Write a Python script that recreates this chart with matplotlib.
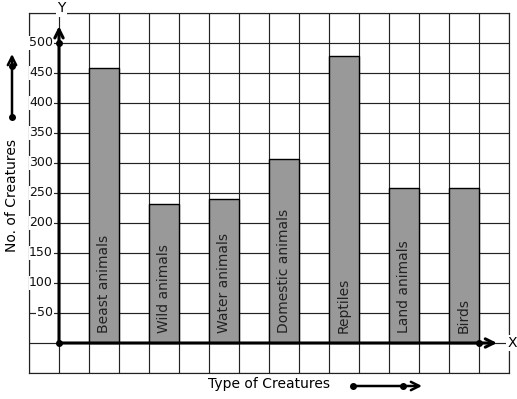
import matplotlib.pyplot as plt

categories = ['Beast animals', 'Wild animals', 'Water animals', 'Domestic animals',
              'Reptiles', 'Land animals', 'Birds']
counts = [458, 231, 240, 306, 478, 258, 258]
y_ticks = [50, 100, 150, 200, 250, 300, 350, 400, 450, 500]

W, H = 517, 399
fig = plt.figure(figsize=(W / 100, H / 100), dpi=100)
ax = fig.add_axes([29 / W, 1 - 373 / H, 480 / W, 360 / H])
ax.set_xlim(-1, 15)
ax.set_ylim(-50, 550)

# square grid
ax.set_xticks(range(-1, 16))
ax.set_yticks(range(-50, 551, 50))
ax.grid(True, color='#222222', lw=0.85)
ax.set_axisbelow(True)
ax.tick_params(length=0, labelbottom=False, labelleft=False)
for s in ax.spines.values():
    s.set_color('#222222')
    s.set_linewidth(0.85)

# bars
xs = [1.5 + 2 * i for i in range(len(categories))]
ax.bar(xs, counts, width=1.0, color='#999999', edgecolor='black', lw=1.0, zorder=2)
for x, name in zip(xs, categories):
    ax.text(x, 16, name, rotation=90, ha='center', va='bottom', fontsize=10,
            color='#222222', zorder=3)

# y values
for v in y_ticks:
    ax.text(-0.2, v, str(v), ha='right', va='center', fontsize=9, color='#111111',
            bbox=dict(boxstyle='square,pad=0.05', fc='white', ec='none'), zorder=3)

# axes with arrows
ax.annotate('', xy=(14.6, 0), xytext=(0, 0),
            arrowprops=dict(arrowstyle='->,head_length=0.6,head_width=0.3', lw=2.2,
                            color='black', shrinkA=0, shrinkB=0), zorder=4)
ax.annotate('', xy=(0, 528), xytext=(0, 0),
            arrowprops=dict(arrowstyle='->,head_length=0.6,head_width=0.3', lw=2.2,
                            color='black', shrinkA=0, shrinkB=0), zorder=4)
ax.plot([0, 14, 0], [0, 0, 500], 'o', color='black', ms=4, zorder=5, clip_on=False)
ax.text(14.95, 0, 'X', ha='left', va='center', fontsize=10,
        bbox=dict(boxstyle='square,pad=0.1', fc='white', ec='none'), zorder=5)
ax.text(0.07, 558, 'Y', ha='center', va='center', fontsize=10,
        bbox=dict(boxstyle='square,pad=0.1', fc='white', ec='none'), zorder=5, clip_on=False)

# axis titles with arrows
fig.text(12 / W, 1 - 195 / H, 'No. of Creatures', rotation=90, ha='center', va='center',
         fontsize=10)
fig.text(269 / W, 1 - 384 / H, 'Type of Creatures', ha='center', va='center', fontsize=10)

arrow = dict(arrowstyle='->,head_length=0.6,head_width=0.3', lw=1.8, color='black',
             shrinkA=0, shrinkB=0)
ax.annotate('', xy=(12 / W, 1 - 54 / H), xytext=(12 / W, 1 - 117 / H),
            xycoords='figure fraction', textcoords='figure fraction', arrowprops=arrow)
fig.add_artist(plt.Line2D([12 / W, 12 / W], [1 - 117 / H, 1 - 66 / H], ls='none',
                          marker='o', ms=4, color='black'))
ax.annotate('', xy=(422 / W, 1 - 386 / H), xytext=(353 / W, 1 - 386 / H),
            xycoords='figure fraction', textcoords='figure fraction', arrowprops=arrow)
fig.add_artist(plt.Line2D([353 / W, 403 / W], [1 - 386 / H, 1 - 386 / H], ls='none',
                          marker='o', ms=4, color='black'))

fig.savefig('out.png', dpi=100)
